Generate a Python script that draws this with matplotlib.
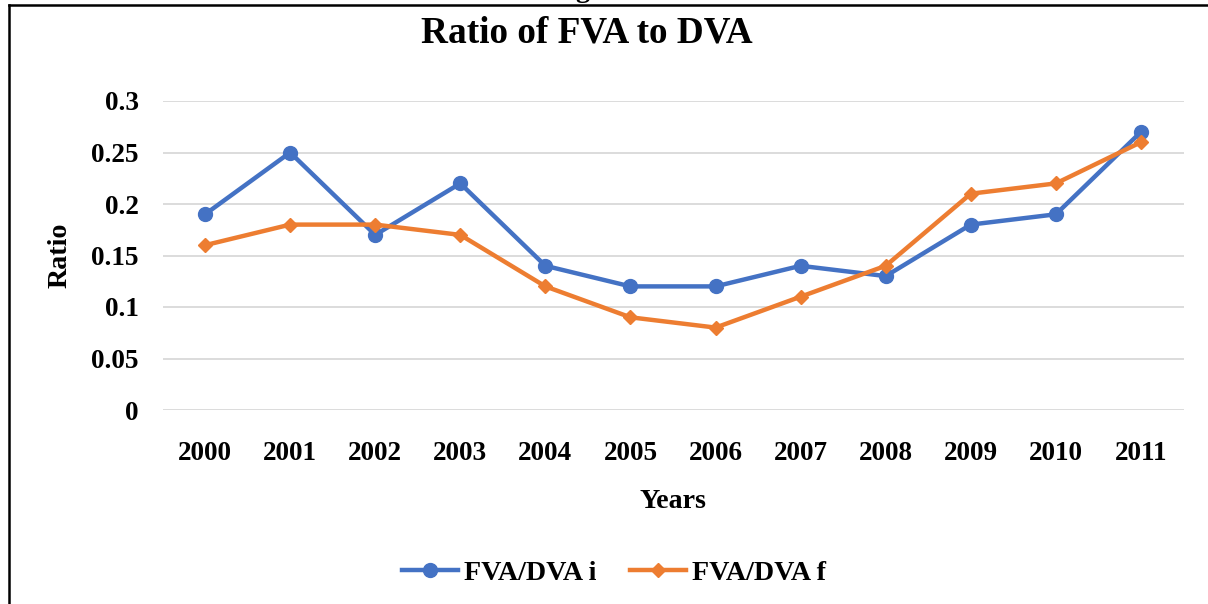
import numpy as np
import matplotlib
matplotlib.use('Agg')
import matplotlib.pyplot as plt
from matplotlib.lines import Line2D

years = ['2000', '2001', '2002', '2003', '2004', '2005',
         '2006', '2007', '2008', '2009', '2010', '2011']
fva_dva_i = [0.19, 0.25, 0.17, 0.22, 0.14, 0.12, 0.12, 0.14, 0.13, 0.18, 0.19, 0.27]
fva_dva_f = [0.16, 0.18, 0.18, 0.17, 0.12, 0.09, 0.08, 0.11, 0.14, 0.21, 0.22, 0.26]
yticks = [0, 0.05, 0.1, 0.15, 0.2, 0.25, 0.3]
ytick_labels = ['0', '0.05', '0.1', '0.15', '0.2', '0.25', '0.3']

plt.rcParams['font.family'] = ['Liberation Serif', 'DejaVu Serif']
plt.rcParams['font.weight'] = 'bold'
fs_tick = 19.6
fs = 20.2

W, H = 1208, 604
fig = plt.figure(figsize=(W / 100, H / 100), dpi=100)
ax = fig.add_axes([162.5 / W, 1 - 410 / H, (1183.5 - 162.5) / W, (410 - 101) / H])

x = np.arange(len(years))
ax.plot(x, fva_dva_i, color='#4472C4', lw=3.2, marker='o', ms=10,
        label='FVA/DVA i', clip_on=False, zorder=3)
ax.plot(x, fva_dva_f, color='#ED7D31', lw=3.2, marker='D', ms=7.5,
        label='FVA/DVA f', clip_on=False, zorder=3)

ax.set_xlim(-0.5, len(years) - 0.5)
ax.set_ylim(0, 0.3)
ax.set_yticks(yticks)
ax.set_yticklabels(ytick_labels, fontsize=fs_tick, fontweight='bold')
ax.set_xticks(x)
ax.set_xticklabels(years, fontsize=fs_tick, fontweight='bold')
ax.tick_params(axis='both', length=0)
ax.tick_params(axis='y', pad=17)
ax.tick_params(axis='x', pad=22)
ax.grid(axis='y', color='#D9D9D9', lw=1.3)
ax.set_axisbelow(True)
for s in ax.spines.values():
    s.set_visible(False)

ax.set_ylabel('Ratio', fontsize=fs, fontweight='bold', va='center')
ax.yaxis.set_label_coords((60 - 162.5) / 1021, 0.5)
ax.set_xlabel('Years', fontsize=fs, fontweight='bold', va='center')
ax.xaxis.set_label_coords(0.5, (410 - 502) / 309)

fig.text(587 / W, 1 - 33 / H, 'Ratio of FVA to DVA', fontsize=26.8,
         fontweight='bold', ha='center', va='center')
# fragment of text cut off at the top edge
fig.text(582 / W, 1 + 3 / H, 'g', fontsize=fs, fontweight='bold',
         ha='center', va='baseline')

fig.legend(loc='center', bbox_to_anchor=(614 / W, 1 - 573 / H), ncol=2,
           frameon=False, prop={'size': fs, 'weight': 'bold'},
           handlelength=2.0, handletextpad=0.2, columnspacing=1.2)

# border lines of the cropped figure
fig.add_artist(Line2D([9 / W, 9 / W], [0, 1 - 4.5 / H], color='black', lw=1.8,
                      transform=fig.transFigure))
fig.add_artist(Line2D([9 / W, 1], [1 - 4.5 / H, 1 - 4.5 / H], color='black', lw=1.8,
                      transform=fig.transFigure))

fig.savefig('out.png', dpi=100)
